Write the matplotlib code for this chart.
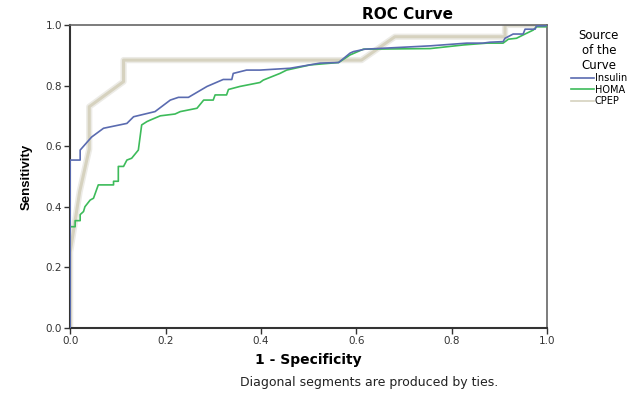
import matplotlib
matplotlib.use('Agg')
import matplotlib.pyplot as plt

# ROC points (1 - specificity, sensitivity)
insulin_x = [0, 0, 0.021, 0.021, 0.045, 0.07, 0.119, 0.133, 0.178, 0.21, 0.227, 0.248,
             0.287, 0.321, 0.339, 0.342, 0.37, 0.398, 0.461, 0.524, 0.563, 0.587, 0.594,
             0.618, 0.755, 0.832, 0.866, 0.88, 0.908, 0.912, 0.929, 0.95, 0.954, 0.975,
             0.978, 0.996, 1.0]
insulin_y = [0, 0.554, 0.554, 0.587, 0.63, 0.659, 0.675, 0.697, 0.714, 0.752, 0.761, 0.761,
             0.797, 0.82, 0.82, 0.84, 0.851, 0.851, 0.857, 0.874, 0.876, 0.907, 0.912,
             0.92, 0.931, 0.94, 0.94, 0.943, 0.945, 0.956, 0.97, 0.97, 0.986, 0.986,
             0.997, 0.997, 1.0]

homa_x = [0, 0, 0.0105, 0.0105, 0.021, 0.021, 0.028, 0.031, 0.042, 0.049, 0.059, 0.091,
          0.091, 0.101, 0.101, 0.112, 0.119, 0.129, 0.143, 0.15, 0.161, 0.168, 0.189,
          0.22, 0.231, 0.266, 0.28, 0.30, 0.304, 0.328, 0.332, 0.356, 0.398, 0.405,
          0.44, 0.454, 0.503, 0.563, 0.587, 0.615, 0.755, 0.825, 0.874, 0.908, 0.919,
          0.936, 0.95, 0.971, 0.978, 0.998, 1.0]
homa_y = [0, 0.334, 0.334, 0.354, 0.354, 0.374, 0.384, 0.40, 0.422, 0.428, 0.472, 0.472,
          0.484, 0.484, 0.533, 0.533, 0.554, 0.56, 0.587, 0.67, 0.681, 0.686, 0.70,
          0.706, 0.714, 0.725, 0.752, 0.752, 0.769, 0.769, 0.787, 0.797, 0.81, 0.818,
          0.84, 0.851, 0.868, 0.876, 0.901, 0.92, 0.922, 0.934, 0.94, 0.94, 0.953,
          0.956, 0.967, 0.983, 0.994, 0.994, 1.0]

cpep_x = [0, 0, 0.02, 0.04, 0.04, 0.112, 0.112, 0.611, 0.681, 0.912, 0.912, 1.0]
cpep_y = [0, 0.25, 0.45, 0.59, 0.73, 0.813, 0.884, 0.884, 0.961, 0.961, 1.0, 1.0]

series = ['Insulin', 'HOMA', 'CPEP']
colors = ['#5a6bb0', '#3dbb5a', '#d6d2bf']

plt.rcParams['font.family'] = ['DejaVu Sans']

fig = plt.figure(figsize=(6.32, 3.96), dpi=100)
ax = fig.add_axes([0.111, 0.172, 0.7545, 0.765])

# faint halo under the CPEP line, as in the original rendering
ax.plot(cpep_x, cpep_y, color='#ecebe6', lw=4.5, zorder=1)
ax.plot(cpep_x, cpep_y, color=colors[2], lw=2.2, label=series[2], zorder=2)
ax.plot(homa_x, homa_y, color=colors[1], lw=1.2, label=series[1], zorder=3)
ax.plot(insulin_x, insulin_y, color=colors[0], lw=1.2, label=series[0], zorder=4)

ax.set_xlim(0, 1)
ax.set_ylim(0, 1)
ticks = [0.0, 0.2, 0.4, 0.6, 0.8, 1.0]
ax.set_xticks(ticks)
ax.set_yticks(ticks)
ax.set_xticklabels(['%.1f' % t for t in ticks], fontsize=7.5, color='#333333')
ax.set_yticklabels(['%.1f' % t for t in ticks], fontsize=7.5, color='#333333')
ax.tick_params(direction='out', length=4, width=1, color='#333333', pad=2)

for s in ['left', 'bottom']:
    ax.spines[s].set_color('#333333')
    ax.spines[s].set_linewidth(1.5)
for s in ['top', 'right']:
    ax.spines[s].set_color('#666666')
    ax.spines[s].set_linewidth(1.2)

ax.set_xlabel('1 - Specificity', fontsize=10, fontweight='bold', labelpad=5)
ax.set_ylabel('Sensitivity', fontsize=9.5, fontweight='bold', labelpad=9,
              family=['Liberation Sans Narrow', 'Liberation Sans', 'DejaVu Sans'])

fig.text(0.644, 0.964, 'ROC Curve', ha='center', va='center', fontsize=11, fontweight='bold')
fig.text(0.584, 0.033, 'Diagonal segments are produced by ties.', ha='center', va='center',
         fontsize=9, color='#222222')

h, l = ax.get_legend_handles_labels()
order = [2, 1, 0]
leg = fig.legend([h[i] for i in order], [l[i] for i in order],
                 title='Source\nof the\nCurve', loc='upper left',
                 bbox_to_anchor=(0.895, 0.94), frameon=False, fontsize=7,
                 title_fontsize=8.5, handlelength=2.4, handletextpad=0.1,
                 labelspacing=0.15, borderpad=0.0)
leg.get_title().set_multialignment('center')
for line in leg.get_lines():
    line.set_linewidth(1.2)

fig.savefig('out.png', dpi=100)
